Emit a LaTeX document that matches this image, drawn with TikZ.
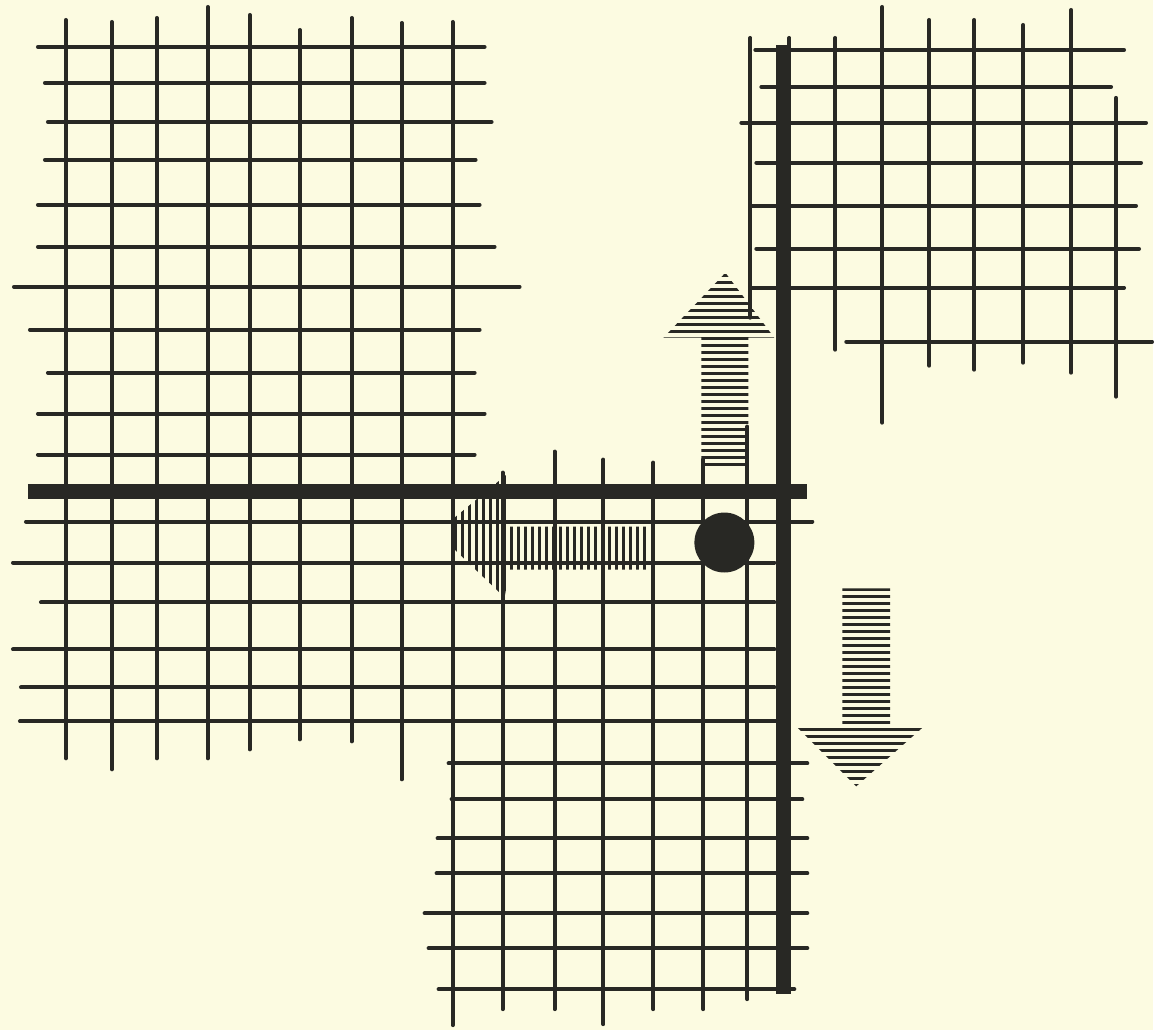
\documentclass[tikz,border=0pt]{standalone}
\usepackage{xcolor}
\usepackage{tikz}
\usetikzlibrary{calc}
\definecolor{paper}{RGB}{252, 251, 225}
\definecolor{ink}{RGB}{40, 40, 36}
\tikzset{
    gridline/.style={draw=ink, line width=2pt, line cap=round},
    thickbar/.style={draw=ink, line width=7.5pt},
    hatch/.style={draw=ink, line width=1.3pt},
    dot/.style={circle, fill=ink, inner sep=0pt, minimum size=30pt},
}

\begin{document}
\begin{tikzpicture}[x=0.5pt, y=-0.5pt]
        % Paper
        \fill[paper] (0,0) rectangle (1154,1031);

        % Upper-left grid, horizontals
        \foreach \y/\a/\b in {47/38/485, 83/45/485, 122/48/492, 160/45/476, 205/38/480,
                              247/38/495, 287/14/520, 330/30/480, 373/48/475, 414/38/485, 455/38/475}
            \draw[gridline] (\a,\y) -- (\b,\y);

        % Left verticals, through both left grids
        \foreach \x/\a/\b in {66/20/759, 112/22/770, 157/18/759, 208/7/759, 250/15/750,
                              300/30/740, 352/18/742, 402/23/780, 453/22/1026}
            \draw[gridline] (\x,\a) -- (\x,\b);

        % Lower grid, horizontals
        \foreach \y/\a/\b in {522/26/813, 563/13/775, 603/41/775, 650/13/775, 688/21/775, 722/20/778,
                              764/449/808, 800/452/803, 839/438/808, 874/437/808, 914/425/808,
                              949/429/808, 990/439/795}
            \draw[gridline] (\a,\y) -- (\b,\y);

        % Lower-right verticals
        \foreach \x/\a/\b in {503/473/1010, 555/452/1010, 604/460/1025, 654/463/1010,
                              704/460/1010, 748/427/1000}
            \draw[gridline] (\x,\a) -- (\x,\b);

        % Upper-right grid
        \foreach \y/\a/\b in {50/756/1125, 87/762/1112, 123/742/1147, 163/757/1142,
                              206/752/1137, 249/757/1140, 288/752/1125, 342/847/1153}
            \draw[gridline] (\a,\y) -- (\b,\y);
        \foreach \x/\a/\b in {751/38/318, 790/38/60, 836/38/350, 883/7/423, 930/20/366,
                              975/20/370, 1024/25/363, 1072/10/373, 1117/98/397}
            \draw[gridline] (\x,\a) -- (\x,\b);

        % Thick axes
        \draw[thickbar] (28,492) -- (808,492);
        \draw[thickbar] (784,45) -- (784,995);

        % Up arrow
        \begin{scope}
            \clip (702,468) -- (702,338) -- (664,338) -- (726,273) -- (775,338)
                  -- (749,338) -- (749,468) -- cycle;
            \foreach \y in {276,283,...,468}
                \draw[hatch] (650,\y) -- (790,\y);
        \end{scope}

        % Down arrow
        \begin{scope}
            \clip (843,589) -- (843,725) -- (795,725) -- (857,787) -- (927,725)
                  -- (891,725) -- (891,589) -- cycle;
            \foreach \y in {590,597,...,787}
                \draw[hatch] (790,\y) -- (930,\y);
        \end{scope}

        % Left arrow
        \begin{scope}
            \clip (648,527) -- (510,527) -- (507,475) -- (455,518) -- (455,550)
                  -- (505,598) -- (510,570) -- (648,570) -- cycle;
            \foreach \x in {456,463,...,648}
                \draw[hatch] (\x,470) -- (\x,602);
        \end{scope}

        % Ball
        \node[dot] (ball) at (725,543) {};
    \end{tikzpicture}
\end{document}
